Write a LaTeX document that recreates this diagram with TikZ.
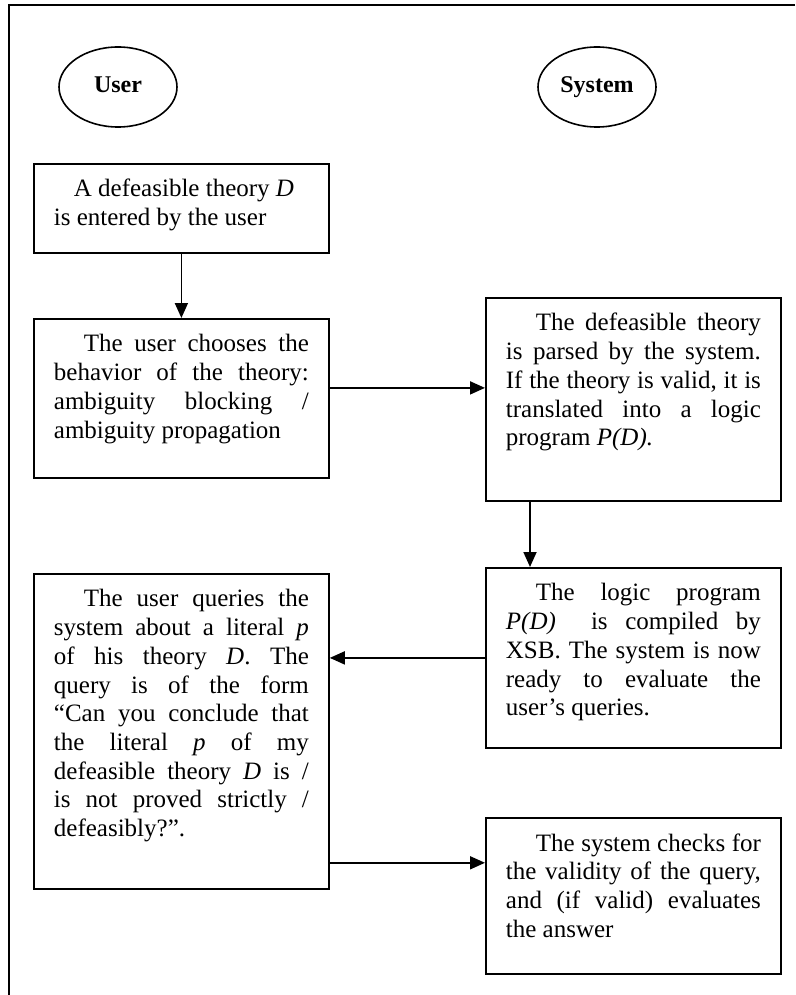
\documentclass[tikz,border=0pt]{standalone}
\usepackage{fontspec}
\setmainfont{Liberation Serif}
\usetikzlibrary{arrows.meta,shapes.geometric}

\newcommand{\boxtext}[3][30pt]{\parbox[t][#2][t]{255pt}{\strut\hspace*{#1}#3}}

\begin{document}
\begin{tikzpicture}[x=1pt,y=-1pt,
		box/.style={draw,line width=1.8pt,anchor=north west,inner xsep=20pt,inner ysep=13pt,font=\fontsize{25}{28.7}\selectfont},
		actor/.style={draw,ellipse,line width=1.6pt,minimum width=118pt,minimum height=80pt,text height=16pt,text depth=4pt,font=\fontsize{24}{28}\selectfont\bfseries},
		arr/.style={line width=1.8pt,-{Triangle[length=15pt,width=13pt]}}]
		\useasboundingbox (0,0) rectangle (795,995);
		\draw[line width=2pt] (9,995) -- (9,5) -- (795,5);
		% the two sides
		\node[actor] (user)   at (118,87) {User};
		\node[actor] (system) at (597,87) {System};
		% user column
		\node[box] (theory) at (33,163) {\boxtext[20pt]{63pt}{A defeasible theory \textit{D}\\is entered by the user}};
		\node[box] (choose) at (33,318) {\boxtext{133pt}{The user chooses the\linebreak behavior of the theory:\linebreak ambiguity blocking /\linebreak ambiguity propagation}};
		\node[box] (query)  at (33,573) {\boxtext{289pt}{The user queries the\linebreak system about a literal \textit{p}\linebreak of his theory \textit{D}. The\linebreak query is of the form\linebreak “Can you conclude that\linebreak the literal \textit{p} of my\linebreak defeasible theory \textit{D} is /\linebreak is not proved strictly /\linebreak defeasibly?”.}};
		% system column
		\node[box] (parse)   at (485,297) {\boxtext{177pt}{The defeasible theory\linebreak is parsed by the system.\linebreak If the theory is valid, it is\linebreak translated into a logic\linebreak program \textit{P(D).}}};
		\node[box] (compile) at (485,567) {\boxtext{154pt}{The logic program\linebreak \textit{P(D)}\ \ is compiled by\linebreak XSB. The system is now\linebreak ready to evaluate the\linebreak user’s queries.}};
		\node[box] (check)   at (485,817) {\boxtext{130pt}{The system checks for\linebreak the validity of the query,\linebreak and (if valid) evaluates\linebreak the answer}};
		% flow
		\draw[arr] (theory.south) -- (choose.north);
		\draw[arr] ([yshift=10.5pt]choose.east) -- ([yshift=10.5pt]choose.east -| parse.west);
		\draw[arr] ([xshift=45pt]parse.south west) -- ([xshift=45pt]parse.south west |- compile.north);
		\draw[arr] (compile.west) -- (compile.west -| query.east);
		\draw[arr] ([yshift=27pt]query.south east) -- ([yshift=27pt]query.south east -| check.west);
	\end{tikzpicture}
\end{document}
